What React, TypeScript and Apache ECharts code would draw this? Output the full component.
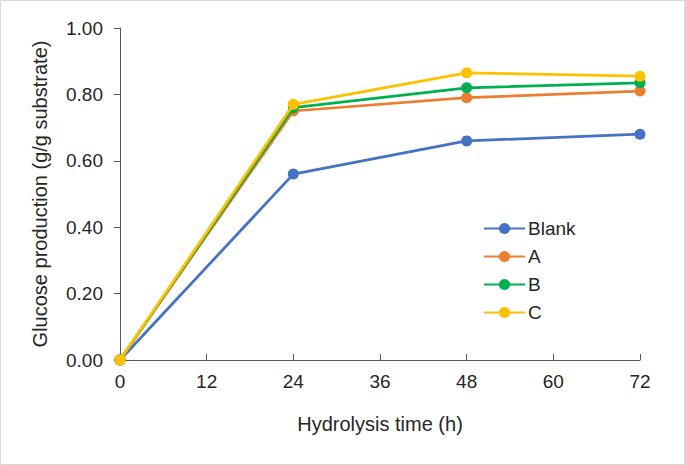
import React, { useEffect, useRef } from "react";
import * as echarts from "echarts";

const hours = [0, 24, 48, 72];
const blank = [0, 0.56, 0.66, 0.68];
const seriesA = [0, 0.75, 0.79, 0.81];
const seriesB = [0, 0.76, 0.82, 0.835];
const seriesC = [0, 0.77, 0.865, 0.855];
const seriesNames = ["Blank", "A", "B", "C"];
const seriesColors = ["#4472C4", "#ED7D31", "#00B050", "#FFC000"];

export default function App() {
  const ref = useRef<HTMLDivElement>(null);
  useEffect(() => {
    if (!ref.current) return;
    const chart = echarts.init(ref.current, null, { renderer: "svg" });
    const datasets = [blank, seriesA, seriesB, seriesC];
    const font = "'Liberation Sans', Arial, sans-serif";
    const fs = 19;
    const fsTitle = 20;
    chart.setOption({
      animation: false,
      backgroundColor: "#ffffff",
      textStyle: { fontFamily: font },
      grid: { left: 120, right: 45, top: 28, bottom: 105, containLabel: false },
      legend: {
        orient: "vertical",
        left: 478,
        top: 214,
        itemWidth: 41,
        itemHeight: 14,
        itemGap: 9,
        data: seriesNames,
        textStyle: { fontSize: fs, color: "#262626", fontFamily: font, padding: [0, 0, 0, -2] },
      },
      xAxis: {
        type: "value",
        min: 0,
        max: 72,
        interval: 12,
        name: "Hydrolysis time (h)",
        nameLocation: "middle",
        nameGap: 54,
        nameTextStyle: { fontSize: fsTitle, color: "#262626", fontFamily: font },
        axisLine: { lineStyle: { color: "#595959", width: 1 } },
        axisTick: { inside: true, length: 6, lineStyle: { color: "#595959" } },
        axisLabel: { fontSize: fs, color: "#262626", margin: 12, fontFamily: font },
        splitLine: { show: false },
      },
      yAxis: {
        type: "value",
        min: 0,
        max: 1,
        interval: 0.2,
        name: "Glucose production (g/g substrate)",
        nameLocation: "middle",
        nameGap: 70,
        nameTextStyle: { fontSize: fsTitle, color: "#262626", fontFamily: font },
        axisLine: { show: true, lineStyle: { color: "#595959", width: 1 } },
        axisTick: { show: true, length: 6, lineStyle: { color: "#595959" } },
        axisLabel: {
          fontSize: fs,
          color: "#262626",
          margin: 17,
          fontFamily: font,
          formatter: (v: number) => v.toFixed(2),
        },
        splitLine: { show: false },
      },
      series: datasets.map((d, i) => ({
        name: seriesNames[i],
        type: "line",
        data: hours.map((h, j) => [h, d[j]]),
        symbol: "circle",
        symbolSize: 11,
        color: seriesColors[i],
        lineStyle: { width: 2.75, color: seriesColors[i] },
        itemStyle: { color: seriesColors[i] },
        z: 2 + i,
      })),
      graphic: [
        {
          type: "rect",
          shape: { x: 0.5, y: 0.5, width: 684, height: 464 },
          style: { fill: "none", stroke: "#d9d9d9", lineWidth: 1 },
          silent: true,
        },
      ],
    });
    return () => chart.dispose();
  }, []);
  return (
    <div style={{ position: "fixed", left: 0, top: 0 }}>
      <div ref={ref} style={{ width: 685, height: 465 }} />
    </div>
  );
}
